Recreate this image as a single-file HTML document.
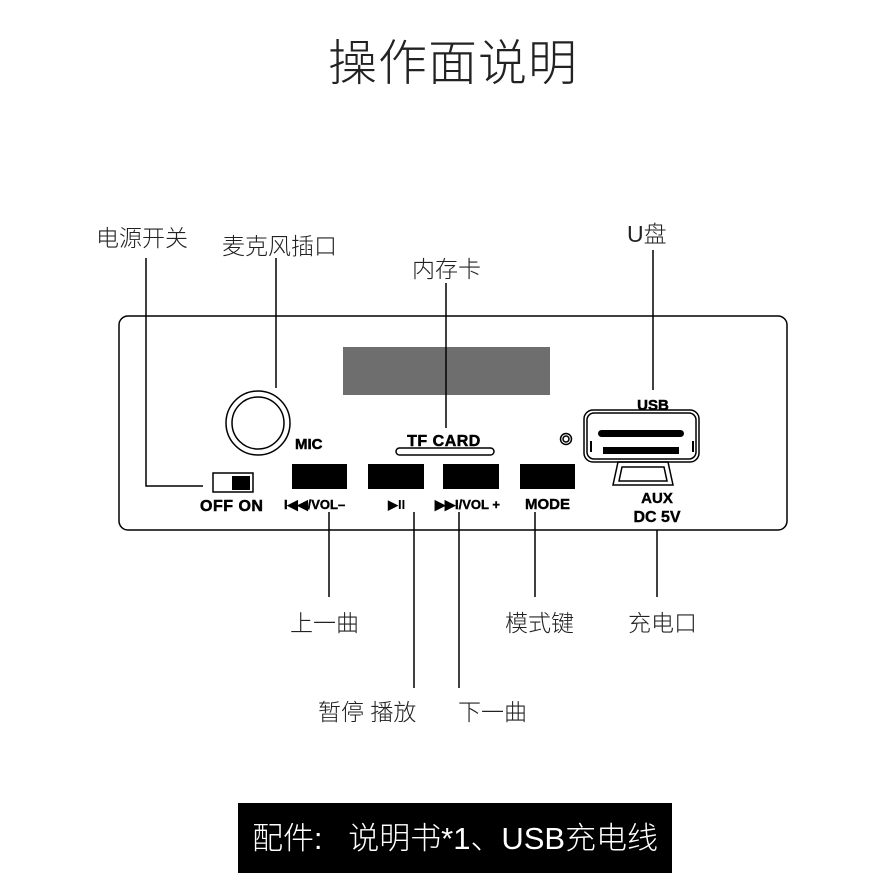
<!DOCTYPE html><html><head><meta charset="utf-8"><style>body{margin:0;background:#fff}svg{display:block}
.cn{font-family:"Liberation Sans","Noto Sans CJK SC",sans-serif;font-weight:300;fill:#222}
.b{font-family:"Liberation Sans",sans-serif;font-weight:bold;fill:#000}</style></head><body>
<svg width="894" height="894" viewBox="0 0 894 894" xmlns="http://www.w3.org/2000/svg">
<text class="cn" x="453" y="80" font-size="49" text-anchor="middle" letter-spacing="1">操作面说明</text>
<rect x="343" y="347" width="207" height="48" fill="#6e6e6e"/>
<g stroke="#000" stroke-width="1.5" fill="none">
<rect x="119" y="316" width="668" height="214" rx="9"/>
<path d="M146 258V486H203"/>
<path d="M276 258V388"/>
<path d="M446 283V428"/>
<path d="M653 250V390"/>
<path d="M329 512V597M414 512V688M459 512V688M535 512V597M657 530V597"/>
<circle cx="258" cy="423" r="32"/>
<circle cx="258" cy="423" r="26"/>
<rect x="213" y="473" width="40" height="19"/>
<rect x="396" y="448" width="98" height="7" rx="3.5"/>
<circle cx="566" cy="439" r="5.5"/><circle cx="566" cy="439" r="3"/>
<rect x="584" y="410" width="115" height="52" rx="9"/>
<rect x="587" y="413" width="109" height="46" rx="7"/>
<path d="M618 462L613 485H673L668 462Z"/>
<path d="M622 467L619 481H667L664 467Z"/>
</g>
<rect x="232" y="476" width="18" height="14" fill="#000"/>
<rect x="292" y="464" width="55" height="25" fill="#000"/>
<rect x="368" y="464" width="56" height="25" fill="#000"/>
<rect x="443" y="464" width="56" height="25" fill="#000"/>
<rect x="520" y="464" width="55" height="25" fill="#000"/>
<rect x="598" y="430" width="86" height="7" rx="3.5" fill="#000"/>
<rect x="603" y="447" width="76" height="7" fill="#000"/>
<rect x="590" y="441" width="2" height="11" fill="#000"/><rect x="692" y="441" width="2" height="11" fill="#000"/>
<text class="b" x="295" y="449" font-size="15" stroke="#000" stroke-width="0.5">MIC</text>
<text class="b" x="444" y="446" font-size="16" text-anchor="middle" letter-spacing="0.5" stroke="#000" stroke-width="0.5">TF CARD</text>
<text class="b" x="653" y="410" font-size="15" text-anchor="middle" stroke="#000" stroke-width="0.5">USB</text>
<text class="b" x="200" y="511" font-size="16" letter-spacing="0.5" stroke="#000" stroke-width="0.5">OFF ON</text>
<text class="b" x="284" y="509" font-size="13" stroke="#000" stroke-width="0.4">I◀◀/VOL–</text>
<text class="b" x="388" y="509" font-size="13">▶II</text>
<text class="b" x="435" y="509" font-size="13" stroke="#000" stroke-width="0.4">▶▶I/VOL +</text>
<text class="b" x="525" y="509" font-size="15" stroke="#000" stroke-width="0.4">MODE</text>
<text class="b" x="657" y="503" font-size="15" text-anchor="middle" stroke="#000" stroke-width="0.4">AUX</text>
<text class="b" x="657" y="522" font-size="16" text-anchor="middle" stroke="#000" stroke-width="0.4">DC 5V</text>
<g class="cn" font-size="23">
<text x="96" y="246">电源开关</text>
<text x="222" y="254">麦克风插口</text>
<text x="412" y="277">内存卡</text>
<text x="627" y="242">U盘</text>
<text x="290" y="631">上一曲</text>
<text x="505" y="631">模式键</text>
<text x="628" y="631">充电口</text>
<text x="318" y="720">暂停 播放</text>
<text x="458" y="720">下一曲</text>
</g>
<rect x="238" y="803" width="434" height="70" fill="#000"/>
<text x="252" y="849" font-size="31" font-family="Liberation Sans,Noto Sans CJK SC,sans-serif" font-weight="300" fill="#fff" xml:space="preserve" textLength="406" lengthAdjust="spacing">配件:   说明书*1、USB充电线</text>
</svg></body></html>
